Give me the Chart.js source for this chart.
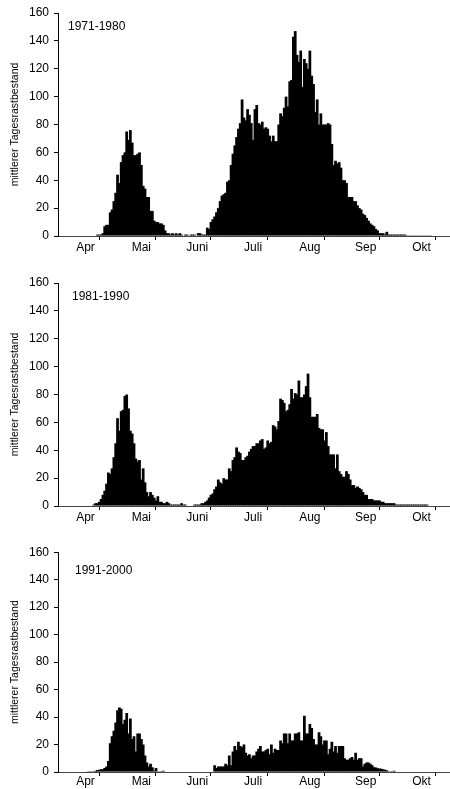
<!DOCTYPE html>
<html>
<head>
<meta charset="utf-8">
<script src="https://cdn.jsdelivr.net/npm/chart.js@4.4.1/dist/chart.umd.min.js"></script>
<style>
  body { margin: 0; background: #fff; }
  .panel { position: absolute; left: 0; }
</style>
</head>
<body>
<div class="panel" style="top:0px"><canvas id="c1" width="450" height="270"></canvas></div>
<div class="panel" style="top:270px"><canvas id="c2" width="450" height="270"></canvas></div>
<div class="panel" style="top:540px"><canvas id="c3" width="450" height="249"></canvas></div>
<script>
// Monate (x-Achse), 1. April bis 31. Oktober
const months = ['Apr', 'Mai', 'Juni', 'Juli', 'Aug', 'Sep', 'Okt'];
const monthDays = [30, 31, 30, 31, 31, 30, 31];
const yMax = 160;
const yStep = 20;
const yTitle = 'mittlerer Tagesrastbestand';
const periods = ['1971-1980', '1981-1990', '1991-2000'];

// mittlerer Tagesrastbestand pro Tag (Index 0 = 1. April)
const rast1971 = [
  0, 0, 0, 0, 0, 0, 0, 0, 0, 0,
  0, 0, 0, 0, 0, 0, 0, 0, 0, 0,
  0, 1, 1, 1, 2, 7, 8, 8, 17, 19,
  25, 31, 44, 38, 53, 58, 60, 75, 69, 76,
  67, 58, 58, 59, 60, 51, 36, 34, 28, 28,
  18, 18, 11, 10, 10, 9, 9, 8, 4, 2,
  2, 1, 2, 1, 2, 1, 2, 1, 0, 1,
  1, 0, 1, 1, 1, 0, 2, 2, 1, 1,
  1, 6, 5, 10, 12, 14, 17, 20, 25, 29,
  30, 31, 39, 40, 51, 59, 65, 71, 77, 81,
  98, 85, 83, 91, 87, 81, 69, 91, 94, 81,
  80, 82, 77, 78, 77, 72, 68, 72, 68, 68,
  80, 88, 86, 92, 100, 93, 111, 112, 143, 147,
  130, 125, 133, 107, 127, 124, 120, 133, 115, 109,
  89, 98, 80, 88, 80, 80, 80, 81, 80, 66,
  51, 54, 52, 53, 49, 40, 40, 38, 28, 28,
  28, 25, 25, 22, 20, 19, 16, 15, 13, 11,
  9, 8, 7, 5, 4, 2, 2, 2, 1, 3,
  1, 1, 1, 1, 1, 1, 1, 1, 1, 1,
  0.5, 0.5, 0.5, 0.5, 0.5, 0.5, 0.5, 0.5, 0.5, 0.5,
  0.5, 0.5, 0.5, 0.5, 0, 0, 0, 0, 0, 0,
  0, 0, 0, 0
];
const rast1981 = [
  0, 0, 0, 0, 0, 0, 0, 0, 0, 0,
  0, 0, 0, 0, 0, 0, 0, 0, 0, 1,
  2, 2, 3, 5, 8, 11, 16, 24, 23, 27,
  35, 45, 63, 54, 68, 69, 79, 80, 70, 54,
  52, 45, 34, 32, 33, 19, 27, 17, 10, 7,
  10, 8, 6, 4, 7, 3, 3, 2, 2, 3,
  2, 1, 1, 1, 1, 1, 1, 2, 1, 1,
  0, 0, 0, 0, 1, 1, 1, 1, 2, 2,
  3, 4, 6, 8, 9, 12, 14, 19, 17, 16,
  20, 19, 19, 27, 25, 33, 35, 42, 39, 38,
  33, 33, 35, 36, 39, 41, 43, 43, 45, 45,
  47, 48, 41, 42, 47, 45, 46, 58, 57, 55,
  61, 77, 76, 74, 68, 69, 73, 84, 77, 81,
  80, 90, 78, 78, 80, 86, 95, 78, 64, 64,
  64, 66, 56, 55, 55, 47, 53, 43, 37, 37,
  37, 27, 37, 25, 23, 21, 21, 25, 23, 19,
  15, 15, 13, 14, 13, 12, 10, 8, 8, 5,
  5, 5, 4, 4, 4, 4, 3, 3, 2, 2,
  2, 2, 2, 2, 1, 1, 1, 1, 1, 1,
  1, 1, 1, 1, 1, 1, 1, 1, 1, 1,
  1, 1, 0, 0, 0, 0, 0, 0, 0, 0,
  0, 0, 0, 0
];
const rast1991 = [
  0, 0, 0, 0, 0, 0, 0, 0, 0, 0,
  0, 0, 0, 0, 0, 0, 0.5, 0.5, 0.5, 0.5,
  1, 1.5, 1.6, 2, 2, 3, 4, 8, 21, 26,
  30, 36, 45, 47, 46, 35, 38, 43, 28, 39,
  24, 26, 15, 28, 28, 24, 20, 12, 7, 4,
  6, 3.5, 1, 3, 0.5, 0.5, 0.5, 1, 0.3, 0.3,
  0.3, 0.3, 0.3, 0.3, 0.3, 0.3, 0.3, 0.3, 0.3, 0.3,
  0.3, 0.3, 0.3, 0.3, 0.3, 0.3, 0.3, 0.3, 0.3, 0.3,
  0.3, 0.3, 0.3, 0.3, 0.3, 5, 3, 4, 4, 4,
  4, 6, 5, 12, 5, 15, 19, 16, 22, 19,
  18, 20, 14, 12, 13, 10, 12, 12, 15, 17,
  19, 15, 15, 16, 17, 13, 20, 14, 17, 16,
  16, 23, 21, 28, 28, 21, 28, 23, 23, 28,
  28, 29, 23, 23, 41, 28, 28, 35, 32, 24,
  20, 20, 29, 26, 20, 23, 23, 13, 17, 22,
  15, 19, 14, 19, 19, 19, 10, 9, 9, 10,
  11, 9, 14, 9, 10, 10, 4, 6, 7, 7,
  6, 5, 3.5, 3.3, 2.8, 2.6, 2.4, 2, 1.6, 1.2,
  0.5, 0.5, 0.5, 1, 0.3, 0.3, 0.3, 0.3, 0.3, 0.3,
  0.3, 0.3, 0.3, 0.3, 0.3, 0, 0, 0, 0, 0,
  0, 0, 0, 0, 0, 0, 0, 0, 0, 0,
  0, 0, 0, 0
];

const FONT = '"Liberation Sans", Arial, sans-serif';
Chart.defaults.font.family = FONT;
Chart.defaults.font.size = 12;
Chart.defaults.color = '#000';

// Monatsgrenzen und Monatsmitten auf der Tagesachse
const bounds = [0];
monthDays.forEach(d => bounds.push(bounds[bounds.length - 1] + d));
const mids = months.map((m, i) => bounds[i] + monthDays[i] / 2);
const totalDays = bounds[bounds.length - 1];

// Zeitraum oben links im Diagramm
const periodLabel = {
  id: 'periodLabel',
  afterDraw(chart, args, opts) {
    const { ctx, chartArea } = chart;
    ctx.save();
    ctx.font = '12px ' + FONT;
    ctx.fillStyle = '#000';
    ctx.textBaseline = 'middle';
    ctx.fillText(opts.text, chartArea.left + opts.dx, chartArea.top + opts.dy);
    ctx.restore();
  }
};

function makePanel(canvasId, values, period, layout) {
  const ctx = document.getElementById(canvasId).getContext('2d');
  const days = values.map((v, i) => i + 0.5);
  return new Chart(ctx, {
    type: 'bar',
    data: {
      labels: days,
      datasets: [{
        data: values,
        backgroundColor: '#000',
        borderWidth: 0,
        barPercentage: 1.5,
        categoryPercentage: 1
      }]
    },
    options: {
      responsive: false,
      animation: false,
      layout: { padding: { top: layout.padTop, left: 0, right: 0, bottom: 0 } },
      plugins: {
        legend: { display: false },
        tooltip: { enabled: false },
        periodLabel: { text: period, dx: layout.dx, dy: layout.dy }
      },
      scales: {
        x: {
          type: 'linear',
          min: 0,
          max: totalDays,
          offset: false,
          afterFit: scale => { scale.height = layout.axisH; },
          afterBuildTicks: scale => {
            scale.ticks = bounds.concat(mids).sort((a, b) => a - b).map(v => ({ value: v }));
          },
          border: { display: true, color: '#444', width: 1 },
          grid: {
            display: true,
            drawOnChartArea: false,
            drawTicks: true,
            tickLength: 4,
            tickColor: c => (c.tick && bounds.includes(c.tick.value)) ? '#000' : 'rgba(0,0,0,0)'
          },
          ticks: {
            autoSkip: false,
            maxRotation: 0,
            padding: layout.labelPad,
            font: { size: 12 },
            callback: v => {
              const i = mids.indexOf(v);
              return i >= 0 ? months[i] : '';
            }
          }
        },
        y: {
          min: 0,
          max: yMax,
          afterFit: scale => { scale.width = 58; },
          border: { display: true, color: '#000', width: 1 },
          grid: {
            display: true,
            drawOnChartArea: false,
            drawTicks: true,
            tickLength: 4,
            tickColor: '#000'
          },
          ticks: { stepSize: yStep, padding: 5, font: { size: 12 } },
          title: {
            display: true,
            text: yTitle,
            font: { size: 10.5 },
            padding: { top: 9, bottom: 0 }
          }
        }
      }
    },
    plugins: [periodLabel]
  });
}

makePanel('c1', rast1971, periods[0], { padTop: 13, axisH: 34, dx: 10, dy: 14, labelPad: 0 });
makePanel('c2', rast1981, periods[1], { padTop: 13, axisH: 34, dx: 14, dy: 14, labelPad: 0 });
makePanel('c3', rast1991, periods[2], { padTop: 7, axisH: 17, dx: 17, dy: 18, labelPad: -2 });
</script>
</body>
</html>
